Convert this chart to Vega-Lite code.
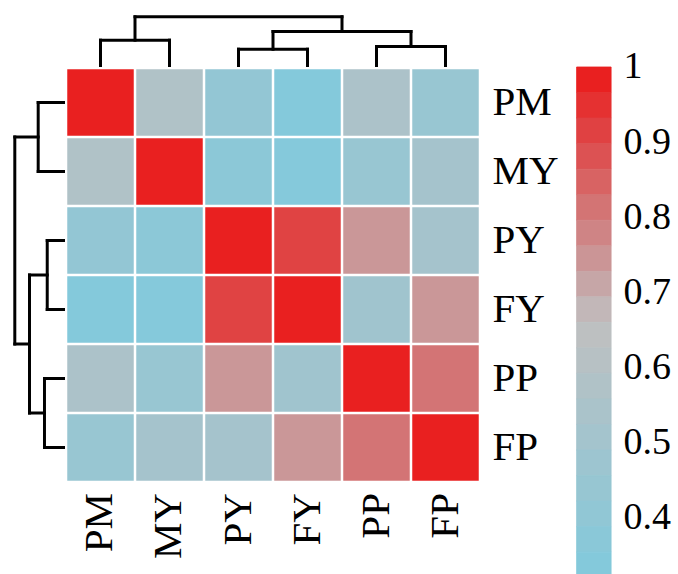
{
  "$schema": "https://vega.github.io/schema/vega-lite/v6.json",
  "width": 612,
  "height": 574,
  "autosize": "none",
  "padding": {"left": 0, "top": 0, "right": 66, "bottom": 0},
  "background": "white",
  "config": {"view": {"stroke": null}},
  "datasets": {
    "cells": [
      {"r": "PM", "c": "PM", "ri": 0, "ci": 0, "v": 1},
      {"r": "PM", "c": "MY", "ri": 0, "ci": 1, "v": 0.574},
      {"r": "PM", "c": "PY", "ri": 0, "ci": 2, "v": 0.418},
      {"r": "PM", "c": "FY", "ri": 0, "ci": 3, "v": 0.335},
      {"r": "PM", "c": "PP", "ri": 0, "ci": 4, "v": 0.552},
      {"r": "PM", "c": "FP", "ri": 0, "ci": 5, "v": 0.445},
      {"r": "MY", "c": "PM", "ri": 1, "ci": 0, "v": 0.574},
      {"r": "MY", "c": "MY", "ri": 1, "ci": 1, "v": 1},
      {"r": "MY", "c": "PY", "ri": 1, "ci": 2, "v": 0.38},
      {"r": "MY", "c": "FY", "ri": 1, "ci": 3, "v": 0.34},
      {"r": "MY", "c": "PP", "ri": 1, "ci": 4, "v": 0.445},
      {"r": "MY", "c": "FP", "ri": 1, "ci": 5, "v": 0.515},
      {"r": "PY", "c": "PM", "ri": 2, "ci": 0, "v": 0.418},
      {"r": "PY", "c": "MY", "ri": 2, "ci": 1, "v": 0.38},
      {"r": "PY", "c": "PY", "ri": 2, "ci": 2, "v": 1},
      {"r": "PY", "c": "FY", "ri": 2, "ci": 3, "v": 0.912},
      {"r": "PY", "c": "PP", "ri": 2, "ci": 4, "v": 0.741},
      {"r": "PY", "c": "FP", "ri": 2, "ci": 5, "v": 0.515},
      {"r": "FY", "c": "PM", "ri": 3, "ci": 0, "v": 0.335},
      {"r": "FY", "c": "MY", "ri": 3, "ci": 1, "v": 0.34},
      {"r": "FY", "c": "PY", "ri": 3, "ci": 2, "v": 0.912},
      {"r": "FY", "c": "FY", "ri": 3, "ci": 3, "v": 1},
      {"r": "FY", "c": "PP", "ri": 3, "ci": 4, "v": 0.488},
      {"r": "FY", "c": "FP", "ri": 3, "ci": 5, "v": 0.741},
      {"r": "PP", "c": "PM", "ri": 4, "ci": 0, "v": 0.552},
      {"r": "PP", "c": "MY", "ri": 4, "ci": 1, "v": 0.445},
      {"r": "PP", "c": "PY", "ri": 4, "ci": 2, "v": 0.741},
      {"r": "PP", "c": "FY", "ri": 4, "ci": 3, "v": 0.488},
      {"r": "PP", "c": "PP", "ri": 4, "ci": 4, "v": 1},
      {"r": "PP", "c": "FP", "ri": 4, "ci": 5, "v": 0.812},
      {"r": "FP", "c": "PM", "ri": 5, "ci": 0, "v": 0.445},
      {"r": "FP", "c": "MY", "ri": 5, "ci": 1, "v": 0.515},
      {"r": "FP", "c": "PY", "ri": 5, "ci": 2, "v": 0.515},
      {"r": "FP", "c": "FY", "ri": 5, "ci": 3, "v": 0.741},
      {"r": "FP", "c": "PP", "ri": 5, "ci": 4, "v": 0.812},
      {"r": "FP", "c": "FP", "ri": 5, "ci": 5, "v": 1}
    ],
    "tree": [
      {"pl": 0, "pr": 1, "hl": -0.536, "hr": -0.536, "h": -0.903},
      {"pl": 2, "pr": 3, "hl": -0.536, "hr": -0.536, "h": -0.772},
      {"pl": 4, "pr": 5, "hl": -0.536, "hr": -0.536, "h": -0.812},
      {"pl": 2.5, "pr": 4.5, "hl": -0.772, "hr": -0.812, "h": -1.029},
      {"pl": 0.5, "pr": 3.5, "hl": -0.903, "hr": -1.029, "h": -1.242}
    ],
    "names": [
      {"name": "PM", "i": 0},
      {"name": "MY", "i": 1},
      {"name": "PY", "i": 2},
      {"name": "FY", "i": 3},
      {"name": "PP", "i": 4},
      {"name": "FP", "i": 5}
    ],
    "steps": [
      {"hi": 1.000, "lo": 0.966, "v": 0.983},
      {"hi": 0.966, "lo": 0.932, "v": 0.949},
      {"hi": 0.932, "lo": 0.898, "v": 0.915},
      {"hi": 0.898, "lo": 0.864, "v": 0.881},
      {"hi": 0.864, "lo": 0.830, "v": 0.847},
      {"hi": 0.830, "lo": 0.796, "v": 0.813},
      {"hi": 0.796, "lo": 0.762, "v": 0.779},
      {"hi": 0.762, "lo": 0.728, "v": 0.745},
      {"hi": 0.728, "lo": 0.694, "v": 0.711},
      {"hi": 0.694, "lo": 0.660, "v": 0.677},
      {"hi": 0.660, "lo": 0.626, "v": 0.643},
      {"hi": 0.626, "lo": 0.592, "v": 0.609},
      {"hi": 0.592, "lo": 0.558, "v": 0.575},
      {"hi": 0.558, "lo": 0.524, "v": 0.541},
      {"hi": 0.524, "lo": 0.490, "v": 0.507},
      {"hi": 0.490, "lo": 0.456, "v": 0.473},
      {"hi": 0.456, "lo": 0.422, "v": 0.439},
      {"hi": 0.422, "lo": 0.388, "v": 0.405},
      {"hi": 0.388, "lo": 0.354, "v": 0.371},
      {"hi": 0.354, "lo": 0.320, "v": 0.337}
    ]
  },
  "layer": [
    {
      "layer": [
        {
          "data": {"name": "cells"},
          "mark": {"type": "square", "size": 4422, "opacity": 1, "filled": true},
          "encoding": {
            "x": {"field": "ci", "type": "quantitative", "scale": {"domain": [-1.4565, 7.413], "nice": false, "zero": false}, "axis": null},
            "y": {"field": "ri", "type": "quantitative", "scale": {"domain": [-1.4855, 6.8333], "nice": false, "zero": false, "reverse": true}, "axis": null},
            "color": {"field": "v", "type": "quantitative", "scale": {"domain": [0.337, 0.66, 0.983], "range": ["#84C9DB", "#C0BFC0", "#E92020"], "interpolate": "rgb", "clamp": true}, "legend": null}
          }
        },
        {
          "data": {"name": "tree"},
          "mark": {"type": "rule", "color": "black", "strokeWidth": 3, "strokeCap": "square"},
          "encoding": {
            "x": {"field": "pl", "type": "quantitative", "scale": {"domain": [-1.4565, 7.413], "nice": false, "zero": false}, "axis": null},
            "y": {"field": "hl", "type": "quantitative", "scale": {"domain": [-1.4855, 6.8333], "nice": false, "zero": false, "reverse": true}, "axis": null},
            "y2": {"field": "h"}
          }
        },
        {
          "data": {"name": "tree"},
          "mark": {"type": "rule", "color": "black", "strokeWidth": 3, "strokeCap": "square"},
          "encoding": {
            "x": {"field": "pr", "type": "quantitative", "scale": {"domain": [-1.4565, 7.413], "nice": false, "zero": false}, "axis": null},
            "y": {"field": "hr", "type": "quantitative", "scale": {"domain": [-1.4855, 6.8333], "nice": false, "zero": false, "reverse": true}, "axis": null},
            "y2": {"field": "h"}
          }
        },
        {
          "data": {"name": "tree"},
          "mark": {"type": "rule", "color": "black", "strokeWidth": 3, "strokeCap": "square"},
          "encoding": {
            "x": {"field": "pl", "type": "quantitative", "scale": {"domain": [-1.4565, 7.413], "nice": false, "zero": false}, "axis": null},
            "x2": {"field": "pr"},
            "y": {"field": "h", "type": "quantitative", "scale": {"domain": [-1.4855, 6.8333], "nice": false, "zero": false, "reverse": true}, "axis": null}
          }
        },
        {
          "data": {"name": "tree"},
          "mark": {"type": "rule", "color": "black", "strokeWidth": 3, "strokeCap": "square"},
          "encoding": {
            "y": {"field": "pl", "type": "quantitative", "scale": {"domain": [-1.4855, 6.8333], "nice": false, "zero": false, "reverse": true}, "axis": null},
            "x": {"field": "hl", "type": "quantitative", "scale": {"domain": [-1.4565, 7.413], "nice": false, "zero": false}, "axis": null},
            "x2": {"field": "h"}
          }
        },
        {
          "data": {"name": "tree"},
          "mark": {"type": "rule", "color": "black", "strokeWidth": 3, "strokeCap": "square"},
          "encoding": {
            "y": {"field": "pr", "type": "quantitative", "scale": {"domain": [-1.4855, 6.8333], "nice": false, "zero": false, "reverse": true}, "axis": null},
            "x": {"field": "hr", "type": "quantitative", "scale": {"domain": [-1.4565, 7.413], "nice": false, "zero": false}, "axis": null},
            "x2": {"field": "h"}
          }
        },
        {
          "data": {"name": "tree"},
          "mark": {"type": "rule", "color": "black", "strokeWidth": 3, "strokeCap": "square"},
          "encoding": {
            "y": {"field": "pl", "type": "quantitative", "scale": {"domain": [-1.4855, 6.8333], "nice": false, "zero": false, "reverse": true}, "axis": null},
            "y2": {"field": "pr"},
            "x": {"field": "h", "type": "quantitative", "scale": {"domain": [-1.4565, 7.413], "nice": false, "zero": false}, "axis": null}
          }
        },
        {
          "data": {"name": "names"},
          "mark": {"type": "text", "font": "Liberation Serif", "fontSize": 41, "align": "left", "baseline": "middle", "color": "black"},
          "encoding": {
            "x": {"datum": 5.68, "type": "quantitative", "scale": {"domain": [-1.4565, 7.413], "nice": false, "zero": false}, "axis": null},
            "y": {"field": "i", "type": "quantitative", "scale": {"domain": [-1.4855, 6.8333], "nice": false, "zero": false, "reverse": true}, "axis": null},
            "text": {"field": "name"}
          }
        },
        {
          "data": {"name": "names"},
          "mark": {"type": "text", "font": "Liberation Serif", "fontSize": 41, "align": "right", "baseline": "middle", "angle": 270, "color": "black"},
          "encoding": {
            "x": {"field": "i", "type": "quantitative", "scale": {"domain": [-1.4565, 7.413], "nice": false, "zero": false}, "axis": null},
            "y": {"datum": 5.66, "type": "quantitative", "scale": {"domain": [-1.4855, 6.8333], "nice": false, "zero": false, "reverse": true}, "axis": null},
            "text": {"field": "name"}
          }
        }
      ]
    },
    {
      "data": {"name": "steps"},
      "mark": {"type": "rect", "strokeWidth": 0.8},
      "encoding": {
        "x": {"datum": 6.9, "type": "quantitative", "scale": {"domain": [-1.4565, 7.413], "nice": false, "zero": false}, "axis": null},
        "x2": {"datum": 7.4},
        "y": {"field": "hi", "type": "quantitative", "scale": {"domain": [0.3249, 1.0892], "nice": false, "zero": false},
              "axis": {"orient": "right", "values": [0.4, 0.5, 0.6, 0.7, 0.8, 0.9, 1], "format": ".1~f", "domain": false, "ticks": false, "grid": false, "title": null, "labelFont": "Liberation Serif", "labelFontSize": 38, "labelColor": "black", "labelPadding": 11, "labelFlush": false, "labelOverlap": false, "labelBaseline": "middle"}},
        "y2": {"field": "lo"},
        "color": {"field": "v", "type": "quantitative", "scale": {"domain": [0.337, 0.66, 0.983], "range": ["#84C9DB", "#C0BFC0", "#E92020"], "interpolate": "rgb", "clamp": true}, "legend": null},
        "stroke": {"field": "v", "type": "quantitative", "scale": {"domain": [0.337, 0.66, 0.983], "range": ["#84C9DB", "#C0BFC0", "#E92020"], "interpolate": "rgb", "clamp": true}, "legend": null}
      }
    }
  ],
  "resolve": {"scale": {"y": "independent"}}
}
